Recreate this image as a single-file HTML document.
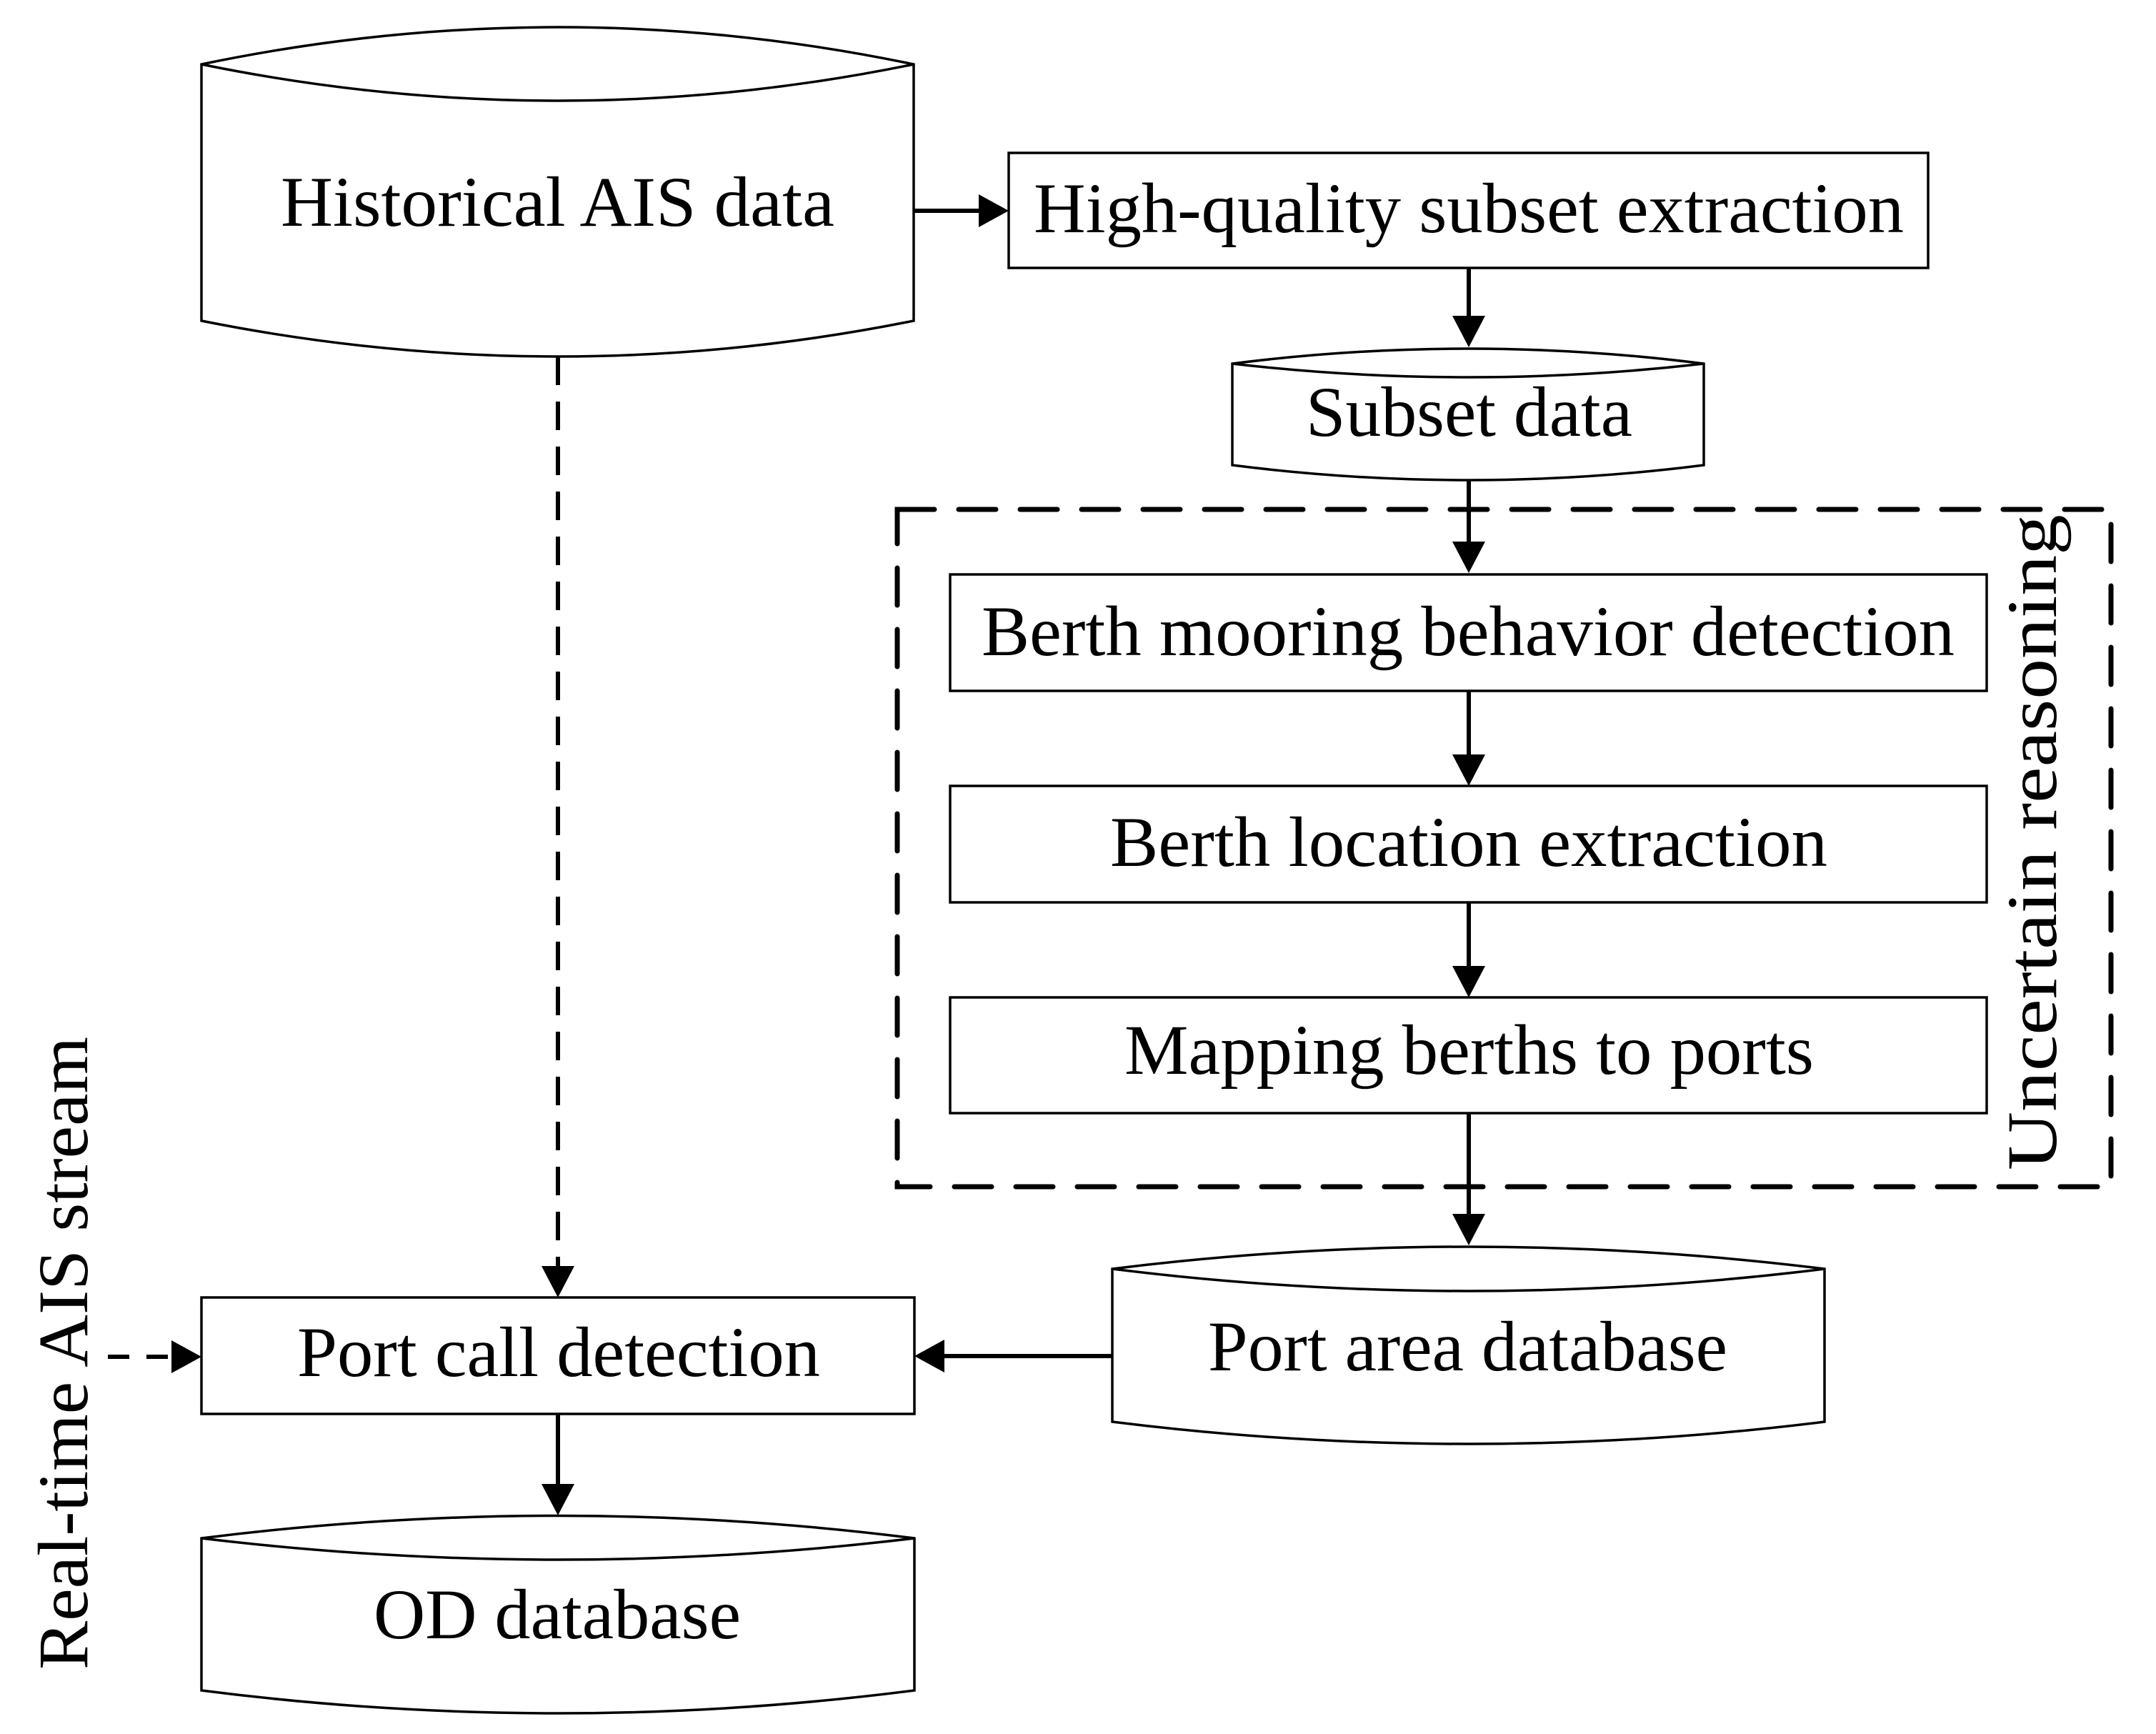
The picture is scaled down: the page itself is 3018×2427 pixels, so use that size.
<!DOCTYPE html>
<html><head><meta charset="utf-8"><style>
html,body{margin:0;padding:0;background:#fff;}
svg{display:block;}
text{font-family:"Liberation Serif",serif;fill:#000;}
</style></head><body>
<svg width="3018" height="2427" viewBox="0 0 3018 2427" xmlns="http://www.w3.org/2000/svg">
<g fill="none" stroke="#000" stroke-width="3.5">
<!-- Historical cylinder -->
<path d="M282,90 Q781,-14 1279,90 L1279,449 Q781,549 282,449 Z" fill="#fff"/>
<path d="M282,90 Q781,192 1279,90"/>
<!-- HQ box -->
<rect x="1412" y="214" width="1287" height="161" fill="#fff"/>
<!-- Subset cylinder -->
<path d="M1725,509 Q2055,467 2385,509 L2385,651 Q2055,693 1725,651 Z" fill="#fff"/>
<path d="M1725,509 Q2055,547 2385,509"/>
<!-- Berth boxes -->
<rect x="1330" y="804" width="1451" height="163"/>
<rect x="1330" y="1100" width="1451" height="163"/>
<rect x="1330" y="1396" width="1451" height="162"/>
<!-- Port area cylinder -->
<path d="M1557,1776 Q2055,1714 2554,1776 L2554,1990 Q2055,2052 1557,1990 Z" fill="#fff"/>
<path d="M1557,1776 Q2055,1838 2554,1776"/>
<!-- Port call box -->
<rect x="282" y="1816" width="998" height="163"/>
<!-- OD cylinder -->
<path d="M282,2153 Q781,2090 1280,2153 L1280,2366 Q781,2430 282,2366 Z" fill="#fff"/>
<path d="M282,2153 Q781,2213 1280,2153"/>
</g>
<!-- dashed group rect -->
<rect x="1256" y="713" width="1699" height="948" fill="none" stroke="#000" stroke-width="7" stroke-dasharray="52 34" stroke-linecap="round"/>
<!-- connectors -->
<g stroke="#000" stroke-width="6" fill="none">
<line x1="1279" y1="295" x2="1375" y2="295"/>
<line x1="2056" y1="375" x2="2056" y2="445"/>
<line x1="2056" y1="672" x2="2056" y2="762"/>
<line x1="2056" y1="967" x2="2056" y2="1060"/>
<line x1="2056" y1="1263" x2="2056" y2="1356"/>
<line x1="2056" y1="1558" x2="2056" y2="1703"/>
<line x1="1557" y1="1898" x2="1320" y2="1898"/>
<line x1="781" y1="1979" x2="781" y2="2080"/>
<line x1="781" y1="499" x2="781" y2="1776" stroke-dasharray="40 23"/>
<line x1="151" y1="1899" x2="245" y2="1899" stroke-dasharray="30 24"/>
</g>
<g fill="#000">
<polygon points="1412,295 1370,272 1370,318"/>
<polygon points="2056,486 2033,442 2079,442"/>
<polygon points="2056,802 2033,758 2079,758"/>
<polygon points="2056,1100 2033,1056 2079,1056"/>
<polygon points="2056,1396 2033,1352 2079,1352"/>
<polygon points="2056,1743 2033,1699 2079,1699"/>
<polygon points="1280,1898 1322,1875 1322,1921"/>
<polygon points="781,1816 758,1772 804,1772"/>
<polygon points="781,2121 758,2077 804,2077"/>
<polygon points="282,1899 240,1876 240,1922"/>
</g>
<g font-size="100">
<text x="393" y="316" textLength="775" lengthAdjust="spacingAndGlyphs">Historical AIS data</text>
<text x="1447" y="325" textLength="1218" lengthAdjust="spacingAndGlyphs">High-quality subset extraction</text>
<text x="1828" y="610" textLength="457" lengthAdjust="spacingAndGlyphs">Subset data</text>
<text x="1374" y="917" textLength="1362" lengthAdjust="spacingAndGlyphs">Berth mooring behavior detection</text>
<text x="1554" y="1212" textLength="1004" lengthAdjust="spacingAndGlyphs">Berth location extraction</text>
<text x="1574" y="1503" textLength="965" lengthAdjust="spacingAndGlyphs">Mapping berths to ports</text>
<text x="1691" y="1918" textLength="727" lengthAdjust="spacingAndGlyphs">Port area database</text>
<text x="416" y="1926" textLength="732" lengthAdjust="spacingAndGlyphs">Port call detection</text>
<text x="523" y="2293" textLength="514" lengthAdjust="spacingAndGlyphs">OD database</text>
<text transform="translate(2878,1638) rotate(-90)" textLength="918" lengthAdjust="spacingAndGlyphs">Uncertain reasoning</text>
<text transform="translate(122,2337) rotate(-90)" textLength="886" lengthAdjust="spacingAndGlyphs">Real-time AIS stream</text>
</g>
</svg>
</body></html>
